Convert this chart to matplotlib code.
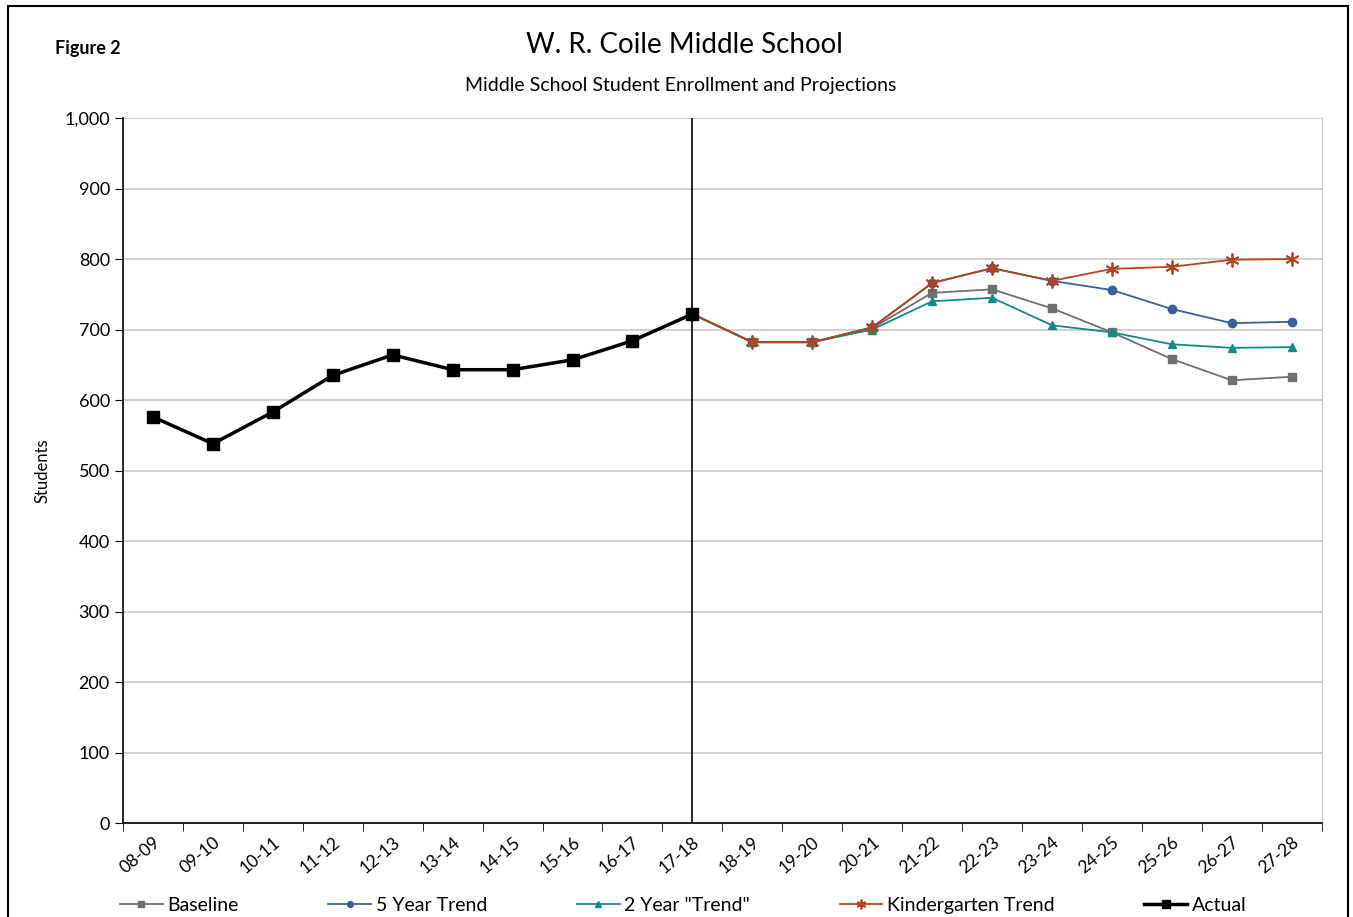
import matplotlib.pyplot as plt
import numpy as np

# School years on the x axis
years = ['08-09', '09-10', '10-11', '11-12', '12-13', '13-14', '14-15', '15-16',
         '16-17', '17-18', '18-19', '19-20', '20-21', '21-22', '22-23', '23-24',
         '24-25', '25-26', '26-27', '27-28']

# Actual enrollment 08-09 .. 17-18
actual = [576, 538, 583, 635, 664, 643, 643, 657, 684, 722]

# Projections 17-18 .. 27-28
baseline = [722, 682, 682, 702, 752, 757, 730, 696, 658, 628, 633]
five_year = [722, 682, 682, 703, 766, 787, 769, 756, 729, 709, 711]
two_year = [722, 682, 682, 700, 740, 745, 706, 696, 679, 674, 675]
kinder = [722, 682, 682, 703, 766, 787, 769, 786, 789, 799, 800]

plt.rcParams['font.family'] = ['Lato', 'DejaVu Sans']

fig = plt.figure(figsize=(13.53, 9.17), dpi=100)
ax = fig.add_axes([0.0909, 0.1025, 0.886, 0.7688])

x_all = np.arange(len(years))
x_act = x_all[:len(actual)]
x_proj = x_all[len(actual) - 1:]

ax.plot(x_proj, baseline, color='#707070', lw=1.3, marker='s', ms=6,
        label='Baseline', zorder=3)
ax.plot(x_proj, five_year, color='#3A5F9A', lw=1.3, marker='o', ms=6,
        label='5 Year Trend', zorder=3)
ax.plot(x_proj, two_year, color='#148A82', lw=1.3, marker='^', ms=6,
        label='2 Year "Trend"', zorder=3)
ax.plot(x_proj, kinder, color='#B5441E', lw=1.3, marker=(6, 2, 0), ms=10,
        mew=1.3, label='Kindergarten Trend', zorder=4)
ax.plot(x_act, actual, color='black', lw=2.5, marker='s', ms=8,
        label='Actual', zorder=5)

# divider between actual and projected
ax.axvline(len(actual) - 1, color='black', lw=1.2, zorder=6)

ax.set_xlim(-0.5, len(years) - 0.5)
ax.set_ylim(0, 1000)
ax.set_yticks(np.arange(0, 1001, 100))
ax.set_yticklabels([f'{v:,}' for v in range(0, 1001, 100)], fontsize=13)
ax.set_xticks(x_all)
ax.set_xticklabels(years, rotation=40, ha='right', rotation_mode='anchor', fontsize=12.5)
ax.set_xticks(np.arange(-0.5, len(years)), minor=True)
ax.tick_params(axis='x', which='major', length=0, pad=8)
ax.tick_params(axis='x', which='minor', length=6, direction='out')
ax.tick_params(axis='y', length=6, direction='out')
ax.grid(axis='y', color='#C8C8C8', lw=1.2)
ax.set_axisbelow(True)
ax.spines['top'].set_visible(False)
ax.spines['right'].set_color('#C8C8C8')
ax.spines['left'].set_linewidth(1.2)
ax.spines['bottom'].set_linewidth(1.2)
ax.set_ylabel('Students', fontsize=12, labelpad=10)

fig.text(0.506, 0.951, 'W. R. Coile Middle School', ha='center', va='center', fontsize=20)
fig.text(0.503, 0.907, 'Middle School Student Enrollment and Projections', ha='center',
         va='center', fontsize=14)
fig.text(0.041, 0.947, 'Figure 2', ha='left', va='center', fontsize=13, fontweight='bold')

fig.legend(loc='lower center', bbox_to_anchor=(0.505, -0.016), ncol=5, frameon=False,
           fontsize=14, handlelength=2.2, columnspacing=4.6, handletextpad=0.25,
           markerscale=0.7)

# outer frame (bottom edge runs off the page)
fig.patches.append(plt.Rectangle((0.006, -0.01), 0.99, 1.004, transform=fig.transFigure,
                                 fill=False, edgecolor='black', lw=1.5))

fig.savefig('out.png', dpi=100)
